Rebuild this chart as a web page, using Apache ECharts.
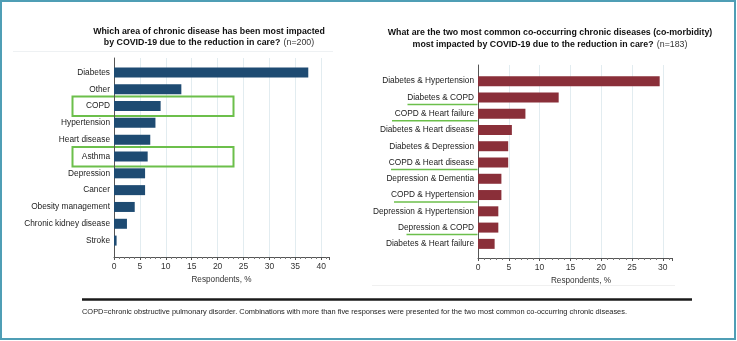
<!DOCTYPE html>
<html><head><meta charset="utf-8">
<script src="https://cdn.jsdelivr.net/npm/echarts@6/dist/echarts.min.js"></script>
<style>html,body{margin:0;padding:0;background:#fff}#c{width:737px;height:341px}</style>
</head><body><div id="c"></div>
<script>
const leftCategories = ['Diabetes','Other','COPD','Hypertension','Heart disease','Asthma','Depression','Cancer','Obesity management','Chronic kidney disease','Stroke'];
const leftValues = [37.5, 13, 9, 8, 7, 6.5, 6, 6, 4, 2.5, 0.5];
const leftTicks = [0,5,10,15,20,25,30,35,40];
const rightCategories = ['Diabetes & Hypertension','Diabetes & COPD','COPD & Heart failure','Diabetes & Heart disease','Diabetes & Depression','COPD & Heart disease','Depression & Dementia','COPD & Hypertension','Depression & Hypertension','Depression & COPD','Diabetes & Heart failure'];
const rightValues = [29.5, 13.1, 7.7, 5.5, 4.9, 4.9, 3.8, 3.8, 3.3, 3.3, 2.7];
const rightTicks = [0,5,10,15,20,25,30];
const leftHighlighted = ['COPD','Asthma'];
const rightHighlighted = ['Diabetes & COPD','COPD & Heart failure','COPD & Heart disease','COPD & Hypertension','Depression & COPD'];

const FONT = '"Liberation Sans", Arial, sans-serif';
const chart = echarts.init(document.getElementById('c'), null, {renderer:'canvas'});

function frameX(grid, max, ticks, nameGap, namePad){
  return {
    gridIndex: grid, type:'value', min:0, max:max, interval:5,
    axisLine:{show:true, lineStyle:{color:'#555', width:1}},
    axisTick:{show:true, length:3, lineStyle:{color:'#555'}},
    minorTick:{show:true, splitNumber:5, length:2, lineStyle:{color:'#777'}},
    axisLabel:{fontSize:8.5, color:'#333', fontFamily:FONT, margin:5, showMaxLabel:false,
      formatter:(v)=> ticks.indexOf(v) >= 0 ? String(v) : ''},
    splitLine:{show:true, showMaxLine:false, showMinLine:false, lineStyle:{color:'#e2ecf0', width:1}},
    name:'Respondents, %', nameLocation:'middle', nameGap:nameGap,
    nameTextStyle:{fontSize:8.2, color:'#333', fontFamily:FONT, padding:namePad}
  };
}
function hiddenX(grid, max){ return {gridIndex:grid, type:'value', min:0, max:max, show:false}; }
function frameY(grid){
  return {gridIndex:grid, type:'value', min:0, max:1, axisLine:{show:true, lineStyle:{color:'#555'}},
    axisTick:{show:false}, axisLabel:{show:false}, splitLine:{show:false}};
}
function catY(grid, data){
  return {gridIndex:grid, type:'category', data:data, inverse:true,
    axisLine:{show:false}, axisTick:{show:false}, splitLine:{show:false},
    axisLabel:{fontSize:8.3, color:'#222', fontFamily:FONT, margin:4}};
}

chart.setOption({
  animation:false,
  backgroundColor:'#fff',
  grid:[
    {left:114, top:58, width:215, height:199},
    {left:114, top:64, width:215, height:185},
    {left:478, top:65, width:194, height:193},
    {left:478, top:73, width:194, height:179}
  ],
  xAxis:[frameX(0, 41.5, leftTicks, 16, [0,0,0,0]), hiddenX(1, 41.5), frameX(2, 31.5, rightTicks, 15, [0,0,0,12]), hiddenX(3, 31.5)],
  yAxis:[frameY(0), catY(1, leftCategories), frameY(2), catY(3, rightCategories)],
  series:[
    {type:'bar', xAxisIndex:1, yAxisIndex:1, data:leftValues, barWidth:10, itemStyle:{color:'#1e4b72'}, silent:true},
    {type:'bar', xAxisIndex:3, yAxisIndex:3, data:rightValues, barWidth:10, itemStyle:{color:'#8a2f39'}, silent:true}
  ]
});

const green = '#6cbf4b';
const gfx = [];
gfx.push({type:'rect', shape:{x:1, y:1, width:734, height:338}, style:{fill:'none', stroke:'#4f9eb5', lineWidth:2}, silent:true});
const titleRich = (sz)=>({
  b:{fontWeight:'bold', fontSize:sz, fontFamily:FONT, fill:'#111', lineHeight:10.4},
  n:{fontSize:sz, fontFamily:FONT, fill:'#333', lineHeight:10.4}
});
gfx.push({type:'text', x:209, y:37.5, silent:true, style:{
  text:'{b|Which area of chronic disease has been most impacted}\n{b|by COVID-19 due to the reduction in care?} {n|(n=200)}',
  align:'center', verticalAlign:'middle', rich:titleRich(8.8)}});
gfx.push({type:'text', x:550, y:39, silent:true, style:{
  text:'{b|What are the two most common co-occurring chronic diseases (co-morbidity)}\n{b|most impacted by COVID-19 due to the reduction in care?} {n|(n=183)}',
  align:'center', verticalAlign:'middle', rich:titleRich(8.8)}});
gfx.push({type:'line', shape:{x1:13, y1:51.5, x2:333, y2:51.5}, style:{stroke:'#eef1f3', lineWidth:1}, silent:true});
gfx.push({type:'line', shape:{x1:372, y1:285.5, x2:675, y2:285.5}, style:{stroke:'#f0f0f0', lineWidth:1}, silent:true});
gfx.push({type:'line', shape:{x1:82, y1:299.5, x2:692, y2:299.5}, style:{stroke:'#1a1a1a', lineWidth:2.5}, silent:true});
gfx.push({type:'text', x:82, y:311.6, silent:true, style:{
  text:'COPD=chronic obstructive pulmonary disorder. Combinations with more than five responses were presented for the two most common co-occurring chronic diseases.',
  fontSize:7.45, fontFamily:FONT, fill:'#222', align:'left', verticalAlign:'middle'}});
leftHighlighted.forEach(c=>{
  const y = chart.convertToPixel({yAxisIndex:1}, c);
  gfx.push({type:'rect', shape:{x:72.5, y:y-9.5, width:161, height:19.5}, style:{fill:'none', stroke:green, lineWidth:2}, silent:true});
});
const rightStarts = {'Diabetes & COPD':407.5,'COPD & Heart failure':392,'COPD & Heart disease':391,'COPD & Hypertension':394,'Depression & COPD':406.5};
rightHighlighted.forEach(c=>{
  const y = chart.convertToPixel({yAxisIndex:3}, c);
  gfx.push({type:'line', shape:{x1:rightStarts[c], y1:y+7, x2:477.5, y2:y+7}, style:{stroke:green, lineWidth:1.5}, silent:true});
});
chart.setOption({graphic:gfx});
</script>
</body></html>
